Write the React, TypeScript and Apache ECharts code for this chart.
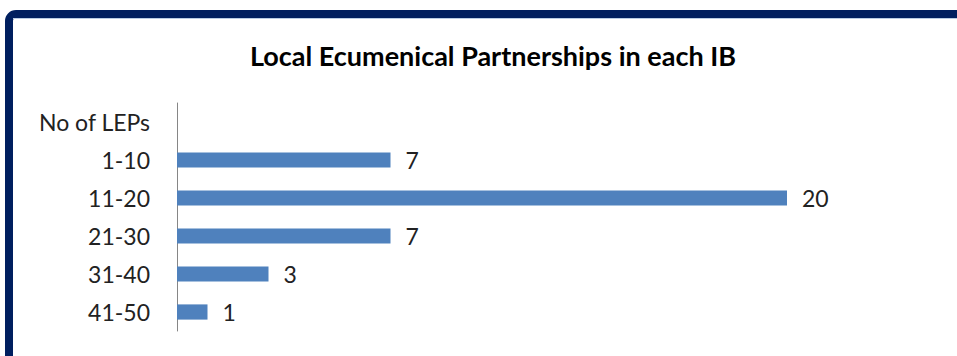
import React, { useEffect, useRef } from "react";
import * as echarts from "echarts";

const titleText = "Local Ecumenical Partnerships in each IB";
const categories = ["No of LEPs", "1-10", "11-20", "21-30", "31-40", "41-50"];
const values: (number | null)[] = [null, 7, 20, 7, 3, 1];
const axisMax = 20;

export default function App() {
  const ref = useRef<HTMLDivElement>(null);
  useEffect(() => {
    document.body.style.margin = "0";
    const chart = echarts.init(ref.current!, undefined, { renderer: "svg" });
    const font = "Lato, 'Open Sans', sans-serif";
    chart.setOption({
      animation: false,
      backgroundColor: "#ffffff",
      title: {
        text: titleText,
        left: 488,
        top: 37,
        textAlign: "center",
        textStyle: { fontFamily: font, fontSize: 27, fontWeight: "bold", color: "#000000" },
      },
      graphic: [
        {
          type: "rect",
          shape: { x: 9, y: 14, width: 1100, height: 500, r: [7, 0, 0, 0] },
          style: { fill: "none", stroke: "#001F5F", lineWidth: 8 },
          silent: true,
        },
        {
          type: "line",
          shape: { x1: 13, y1: 18.5, x2: 957, y2: 18.5 },
          style: { stroke: "#B8CCE4", lineWidth: 1 },
          silent: true,
        },
      ],
      grid: { left: 177, top: 103, width: 610, height: 228, containLabel: false },
      xAxis: {
        type: "value",
        min: 0,
        max: axisMax,
        show: false,
      },
      yAxis: {
        type: "category",
        data: categories,
        inverse: true,
        axisLine: { show: true, lineStyle: { color: "#868686", width: 1 } },
        axisTick: { show: false },
        axisLabel: { fontFamily: font, fontSize: 23, color: "#222222", margin: 27 },
      },
      series: [
        {
          type: "bar",
          data: values,
          barCategoryGap: "60%",
          itemStyle: { color: "#4F81BD" },
          label: {
            show: true,
            position: "right",
            distance: 15,
            fontFamily: font,
            fontSize: 23,
            color: "#222222",
          },
        },
      ],
    });
    return () => chart.dispose();
  }, []);
  return (
    <div
      ref={ref}
      style={{ position: "absolute", left: 0, top: 0, width: 957, height: 356 }}
    />
  );
}
